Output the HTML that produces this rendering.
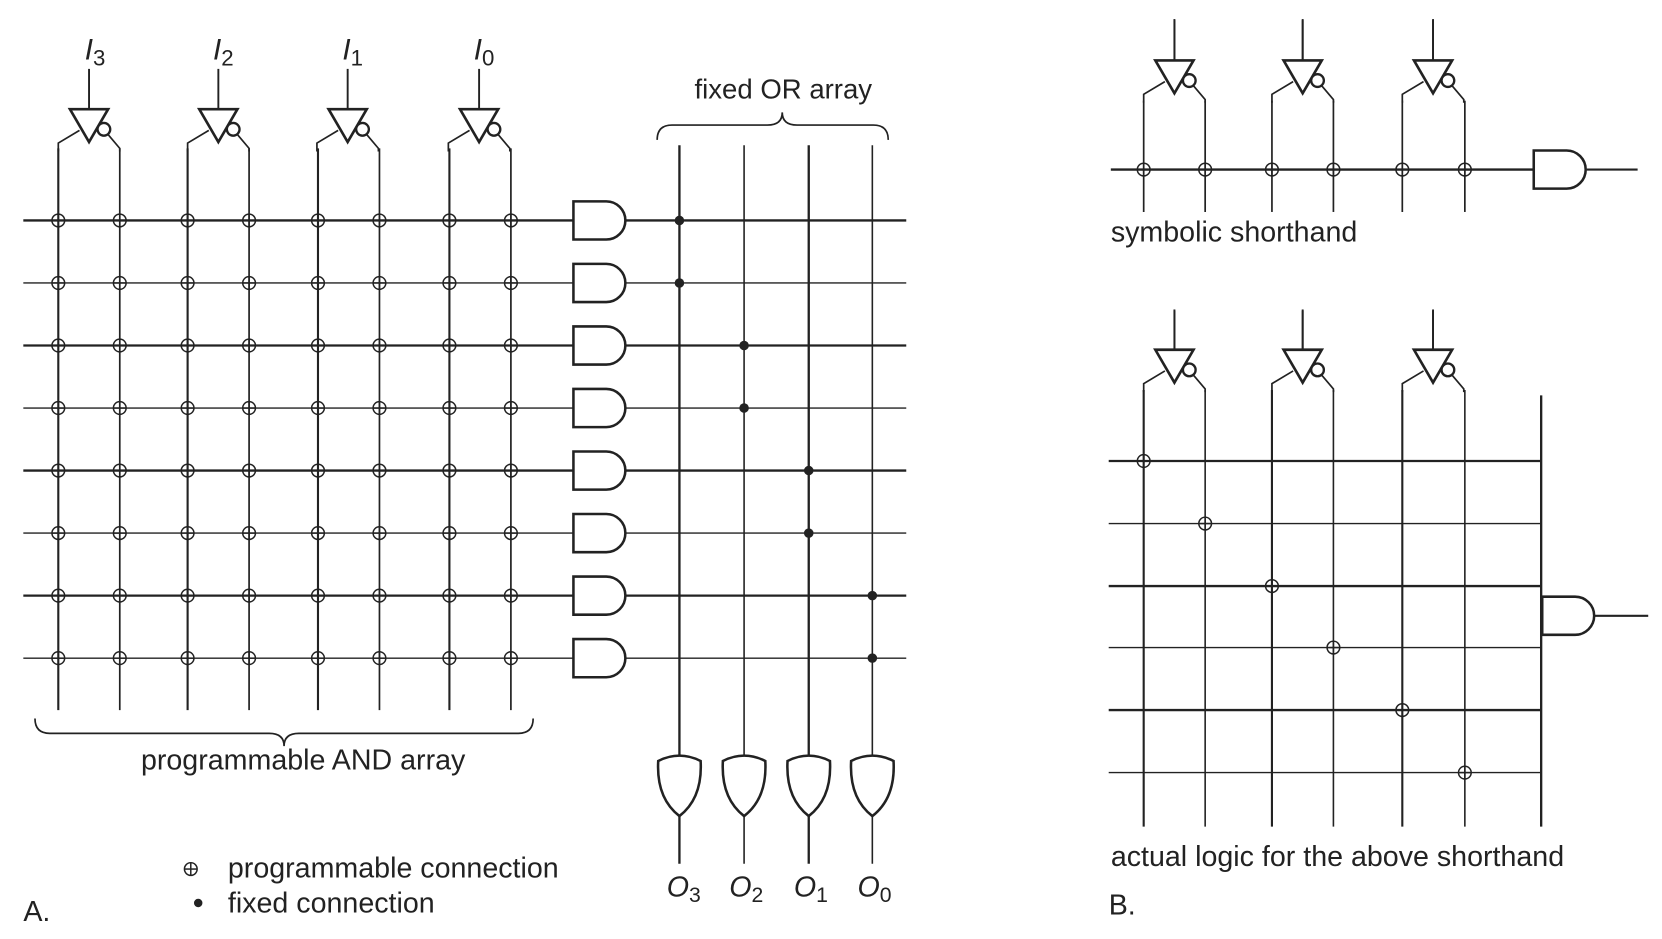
<!DOCTYPE html>
<html><head><meta charset="utf-8"><style>
html,body{margin:0;padding:0;background:#fff;}
svg{display:block}
text{font-family:"Liberation Sans",sans-serif;fill:#222}
</style></head><body>
<svg width="1662" height="939" viewBox="0 0 1568 886" preserveAspectRatio="none" xmlns="http://www.w3.org/2000/svg">
<defs>
<g id="inv" fill="none" stroke="#222">
<line x1="0" y1="-38" x2="0" y2="0" stroke-width="1.8"/>
<polygon points="-18,0 18,0 0,31" fill="#fff" stroke-width="2.5"/>
<circle cx="14" cy="19" r="6" fill="#fff" stroke-width="2.2"/>
<polyline points="-9,20 -29,32 -29,40" stroke-width="1.6"/>
<polyline points="18,24 29,37 29,40" stroke-width="1.6"/>
</g>
<path id="and" d="M0,-18 H31 A18,18 0 0 1 31,18 H0 Z" fill="#fff" stroke="#222" stroke-width="2.4"/>
<path id="or" d="M-20,0 Q0,-10 20,0 Q22,35 0,52 Q-22,35 -20,0 Z" fill="#fff" stroke="#222" stroke-width="2.4"/>
</defs>
<script>
var NS="http://www.w3.org/2000/svg";
var svg=document.querySelector('svg');
function el(t,a){var e=document.createElementNS(NS,t);for(var k in a)e.setAttribute(k,a[k]);svg.appendChild(e);return e;}
function ln(x1,y1,x2,y2,w){el('line',{x1:x1,y1:y1,x2:x2,y2:y2,stroke:'#222','stroke-width':w||1.5});}
function use(id,x,y){el('use',{href:'#'+id,x:x,y:y});}
function xc(x,y){el('circle',{cx:x,cy:y,r:6,fill:'none',stroke:'#222','stroke-width':1.4});ln(x-6,y,x+6,y,1.4);ln(x,y-6,x,y+6,1.4);}
var cols=[55,113,177,235,300,358,424,482];
var rows=[208,267,326,385,444,503,562,621];
var oc=[641,702,763,823];
rows.forEach(function(y,i){var w=i%2?1.3:2.2;ln(22,y,541,y,w);ln(590,y,855,y,w);});
cols.forEach(function(x,i){ln(x,140,x,670,i%2?1.6:2.0);});
[84,206,328,452].forEach(function(c){use('inv',c,103);});
rows.forEach(function(y){cols.forEach(function(x){xc(x,y);});use('and',541,y);});
oc.forEach(function(x,i){ln(x,137,x,720,i%2?1.5:2.2);use('or',x,718);ln(x,770,x,815,i%2?1.5:2.2);
 el('circle',{cx:x,cy:rows[2*i],r:4.5,fill:'#222'});el('circle',{cx:x,cy:rows[2*i+1],r:4.5,fill:'#222'});});
el('path',{d:'M620,132 Q620,118 634,118 H724 Q738,118 738,106 Q738,118 752,118 H824 Q838,118 838,132',fill:'none',stroke:'#222','stroke-width':1.6});
el('path',{d:'M33,678 Q33,692 47,692 H254 Q268,692 268,704 Q268,692 282,692 H489 Q503,692 503,678',fill:'none',stroke:'#222','stroke-width':1.6});
xc(180,820);
el('circle',{cx:187,cy:852,r:4,fill:'#222'});
var bc=[1079,1137,1200,1258,1323,1382];
[1108,1229,1352].forEach(function(c){use('inv',c,57);ln(c,18,c,57,1.8);});
ln(1048,160,1447,160,2.2);
bc.forEach(function(x){ln(x,95,x,200,1.6);xc(x,160);});
use('and',1447,160);ln(1497,160,1545,160,2);
[1108,1229,1352].forEach(function(c){use('inv',c,330);ln(c,293,c,330,1.8);});
var br=[435,494,553,611,670,729];
br.forEach(function(y,i){ln(1046,y,1454,y,i%2?1.3:2.2);});
bc.forEach(function(x,i){ln(x,368,x,780,i%2?1.5:2.0);});
ln(1454,373,1454,780,2.2);
br.forEach(function(y,i){xc(bc[i],y);});
use('and',1455,581);ln(1503,581,1555,581,2);
</script>
<g font-size="27">
<text x="80" y="56" font-style="italic" font-size="28">I<tspan font-size="21" dy="6" font-style="normal">3</tspan></text>
<text x="201" y="56" font-style="italic" font-size="28">I<tspan font-size="21" dy="6" font-style="normal">2</tspan></text>
<text x="323" y="56" font-style="italic" font-size="28">I<tspan font-size="21" dy="6" font-style="normal">1</tspan></text>
<text x="447" y="56" font-style="italic" font-size="28">I<tspan font-size="21" dy="6" font-style="normal">0</tspan></text>
<text x="739" y="93" text-anchor="middle" font-size="26">fixed OR array</text>
<text x="286" y="726" text-anchor="middle">programmable AND array</text>
<text x="215" y="828">programmable connection</text>
<text x="215" y="861">fixed connection</text>
<text x="22" y="869">A.</text>
<text x="629" y="846" font-style="italic">O<tspan font-size="20" dy="5" font-style="normal">3</tspan></text>
<text x="688" y="846" font-style="italic">O<tspan font-size="20" dy="5" font-style="normal">2</tspan></text>
<text x="749" y="846" font-style="italic">O<tspan font-size="20" dy="5" font-style="normal">1</tspan></text>
<text x="809" y="846" font-style="italic">O<tspan font-size="20" dy="5" font-style="normal">0</tspan></text>
<text x="1048" y="228">symbolic shorthand</text>
<text x="1048" y="817">actual logic for the above shorthand</text>
<text x="1046" y="863">B.</text>
</g>
</svg>
</body></html>
